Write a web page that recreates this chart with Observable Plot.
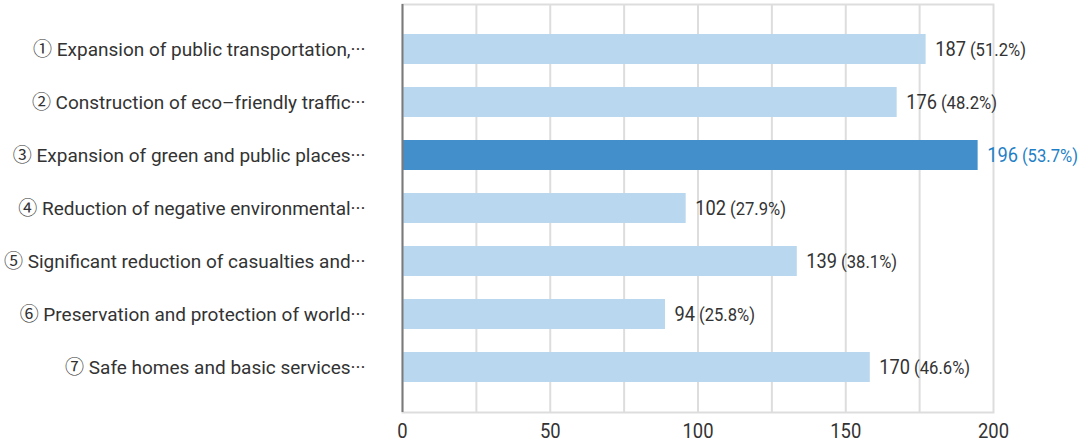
<!DOCTYPE html>
<html><head><meta charset="utf-8">
<script src="https://cdn.jsdelivr.net/npm/d3@7"></script>
<script src="https://cdn.jsdelivr.net/npm/@observablehq/plot@0.6"></script>
<style>body{margin:0;background:#fff}</style>
</head><body><div id="chart"></div>
<script>
const categories = [
  "① Expansion of public transportation,···",
  "② Construction of eco–friendly traffic···",
  "③ Expansion of green and public places···",
  "④ Reduction of negative environmental···",
  "⑤ Significant reduction of casualties and···",
  "⑥ Preservation and protection of world···",
  "⑦ Safe homes and basic services···"
];
// bar lengths as drawn in the picture
const barValues = [177.2, 167.4, 194.8, 96.0, 133.6, 89.0, 158.3];
// label texts
const counts = [187, 176, 196, 102, 139, 94, 170];
const percents = ["51.2", "48.2", "53.7", "27.9", "38.1", "25.8", "46.6"];
const highlightIndex = 2;
const xTicks = [0, 50, 100, 150, 200];
const gridTicks = [25, 50, 75, 100, 125, 150, 175];

const data = categories.map((c, i) => ({
  category: c,
  bar: barValues[i],
  label: `${counts[i]} (${percents[i]}%)`,
  hi: i === highlightIndex
}));

const chart = Plot.plot({
  width: 1090, height: 443,
  marginLeft: 402, marginRight: 97, marginTop: 4, marginBottom: 31,
  style: {fontFamily: "Roboto, 'Noto Sans CJK KR', sans-serif", background: "#fff", color: "#333"},
  x: {domain: [0, 200]},
  y: {domain: categories, range: [21.7, 394.3], paddingInner: 0.427, paddingOuter: 0.2135},
  marks: [
    Plot.frame({stroke: "#dddddd", strokeWidth: 2}),
    Plot.ruleX(gridTicks, {stroke: "#dddddd", strokeWidth: 2}),
    Plot.barX(data, {y: "category", x: "bar", fill: d => d.hi ? "#438fcb" : "#b9d7ee"}),
    Plot.ruleX([0], {stroke: "#7a7a7a", strokeWidth: 2}),
    Plot.text(data, {y: "category", x: "bar", text: "label", dx: 9, textAnchor: "start",
      fill: d => d.hi ? "#1f7fc6" : "#333", fontSize: 20.5}),
    Plot.axisX({ticks: xTicks, tickSize: 0, tickPadding: 11, fontSize: 20, label: null, fill: "#333"}),
    Plot.axisY({tickSize: 0, tickPadding: 37, fontSize: 19, label: null, fill: "#333"})
  ]
});

document.getElementById("chart").append(chart);

function squeeze(el, k) {
  const L = el.getComputedTextLength();
  if (L > 0) {
    el.setAttribute("textLength", (L * k).toFixed(2));
    el.setAttribute("lengthAdjust", "spacingAndGlyphs");
  }
}

d3.select(chart).selectAll("text").each(function() {
  const t = this.textContent;
  if (/^\d+ \(/.test(t)) {
    const k = t.indexOf(" ");
    const a = t.slice(0, k), b = t.slice(k + 1);
    const sel = d3.select(this);
    sel.text(null);
    const ta = sel.append("tspan").attr("font-size", 20.5).text(a);
    const tb = sel.append("tspan").attr("font-size", 17.5).attr("dx", 4).text(b);
    squeeze(ta.node(), 0.89);
    squeeze(tb.node(), 0.95);
  } else if (/^\d+$/.test(t)) {
    squeeze(this, 0.92);
  }
});
</script>
</body></html>
